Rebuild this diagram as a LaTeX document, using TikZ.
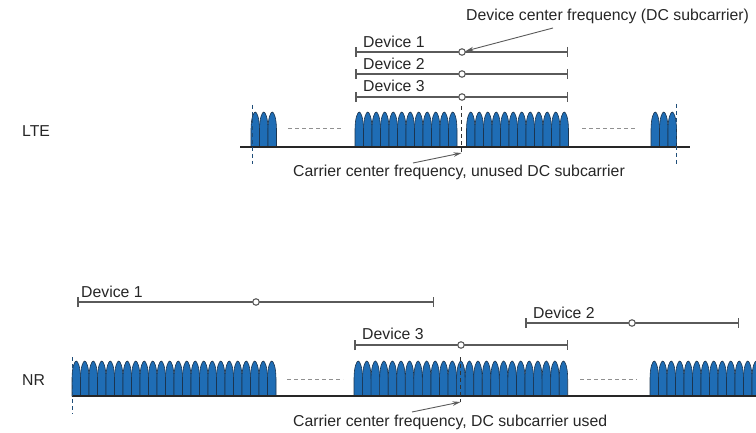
\documentclass[tikz,border=0pt]{standalone}
\usepackage{fontspec}
\setmainfont{Liberation Sans}
\usetikzlibrary{arrows.meta}
\definecolor{scblue}{HTML}{1F6DB5}
\definecolor{scedge}{HTML}{1B3550}
\definecolor{lgrey}{HTML}{5A5A5A}
\definecolor{dgrey}{HTML}{909090}
\definecolor{dblue}{HTML}{1F4E79}
\definecolor{txt}{HTML}{262626}
\begin{document}
\begin{tikzpicture}[x=1pt,y=-1pt,
  subc/.pic={\filldraw[fill=scblue,draw=scedge,line width=0.6pt] (0,0) -- (0,-17) .. controls (0,-29) and (2.6,-35) .. (4.25,-35) .. controls (5.9,-35) and (8.5,-29) .. (8.5,-17) -- (8.5,0) -- cycle;},
  lbl/.style={font=\fontsize{15.8}{18}\selectfont, text=txt, inner sep=0pt},
  devline/.style={draw=lgrey, line width=1.5pt, {Bar[width=10pt]}-{Bar[width=10pt]}},
  dcdot/.style={circle, draw=lgrey, fill=white, line width=1.1pt, inner sep=0pt, minimum size=6.5pt},
  ptr/.style={draw=lgrey, line width=0.9pt, -{Stealth[length=8pt,width=4.5pt]}},
  gapdash/.style={draw=dgrey, line width=1pt, dash pattern=on 4pt off 3pt},
  cdash/.style={draw=black!80, line width=0.9pt, dash pattern=on 4pt off 3pt},
  bdash/.style={draw=dblue, line width=0.9pt, dash pattern=on 4pt off 3pt},
  base/.style={draw=black!85, line width=1.4pt}]
\useasboundingbox (0,0) rectangle (756,433);
\begin{scope}
\clip (0,0) rectangle (756,433);
% ---------- LTE ----------
\node[lbl, anchor=west] (lte) at (22,131) {LTE};
\foreach \i in {0,...,2} \pic at (251+\i*8.5,147) {subc};
\foreach \i in {0,...,11} \pic at (355+\i*8.5,147) {subc};
\foreach \i in {0,...,11} \pic at (466.5+\i*8.5,147) {subc};
\foreach \i in {0,...,2} \pic at (651+\i*8.5,147) {subc};
\coordinate (lb0) at (240,147); \coordinate (lb1) at (690,147);
\draw[base] (lb0) -- (lb1);
\coordinate (lg0a) at (288,129); \coordinate (lg0b) at (343,129);
\draw[gapdash] (lg0a) -- (lg0b);
\coordinate (lg1a) at (582,129); \coordinate (lg1b) at (637,129);
\draw[gapdash] (lg1a) -- (lg1b);
\coordinate (lbl0) at (252,105); \coordinate (lbl1) at (252,164);
\draw[bdash] (lbl0) -- (lbl1);
\coordinate (lbr0) at (676,104); \coordinate (lbr1) at (676,165);
\draw[bdash] (lbr0) -- (lbr1);
\coordinate (lc0) at (461.5,106); \coordinate (lc1) at (461.5,153);
\draw[cdash] (lc0) -- (lc1);
\node[lbl, anchor=west] (ltecar) at (293,172) {Carrier center frequency, unused DC subcarrier};
\coordinate (lca) at (413,163);
\draw[ptr] (lca) -- (lc1);
% LTE devices
\coordinate (d1a) at (355,52); \coordinate (d1b) at (568,52);
\draw[devline] (d1a) -- (d1b);
\node[dcdot] (d1c) at (462,52) {};
\node[lbl, anchor=west] (d1t) at (363,42) {Device 1};
\coordinate (d2a) at (355,74); \coordinate (d2b) at (568,74);
\draw[devline] (d2a) -- (d2b);
\node[dcdot] (d2c) at (462,74) {};
\node[lbl, anchor=west] (d2t) at (363,64) {Device 2};
\coordinate (d3a) at (355,97); \coordinate (d3b) at (568,97);
\draw[devline] (d3a) -- (d3b);
\node[dcdot] (d3c) at (462,97) {};
\node[lbl, anchor=west] (d3t) at (363,86) {Device 3};
\node[lbl, anchor=west] (dcf) at (466,16) {Device center frequency (DC subcarrier)};
\coordinate (dca) at (553,28);
\draw[ptr] (dca) -- (d1c);
% ---------- NR ----------
\node[lbl, anchor=west] (nr) at (22,380) {NR};
\foreach \i in {0,...,23} \pic at (72+\i*8.5,396) {subc};
\foreach \i in {0,...,24} \pic at (354+\i*8.55,396) {subc};
\foreach \i in {0,...,12} \pic at (650+\i*8.5,396) {subc};
\coordinate (nb0) at (72,396); \coordinate (nb1) at (756,396);
\draw[base] (nb0) -- (nb1);
\coordinate (ng0a) at (287,379); \coordinate (ng0b) at (343,379);
\draw[gapdash] (ng0a) -- (ng0b);
\coordinate (ng1a) at (580,379); \coordinate (ng1b) at (637,379);
\draw[gapdash] (ng1a) -- (ng1b);
\coordinate (nbl0) at (72,357); \coordinate (nbl1) at (72,414);
\draw[bdash] (nbl0) -- (nbl1);
\coordinate (nc0) at (460.5,357); \coordinate (nc1) at (460.5,402);
\draw[cdash] (nc0) -- (nc1);
\node[lbl, anchor=west] (nrcar) at (293,422) {Carrier center frequency, DC subcarrier used};
\coordinate (nca) at (412,412);
\draw[ptr] (nca) -- (nc1);
% NR devices
\coordinate (e1a) at (77,302); \coordinate (e1b) at (434,302);
\draw[devline] (e1a) -- (e1b);
\node[dcdot] (e1c) at (256,302) {};
\node[lbl, anchor=west] (e1t) at (81,292) {Device 1};
\coordinate (e2a) at (525,323); \coordinate (e2b) at (739,323);
\draw[devline] (e2a) -- (e2b);
\node[dcdot] (e2c) at (632,323) {};
\node[lbl, anchor=west] (e2t) at (533,313) {Device 2};
\coordinate (e3a) at (354,345); \coordinate (e3b) at (568,345);
\draw[devline] (e3a) -- (e3b);
\node[dcdot] (e3c) at (461,345) {};
\node[lbl, anchor=west] (e3t) at (362,334) {Device 3};
\end{scope}
\end{tikzpicture}
\end{document}
